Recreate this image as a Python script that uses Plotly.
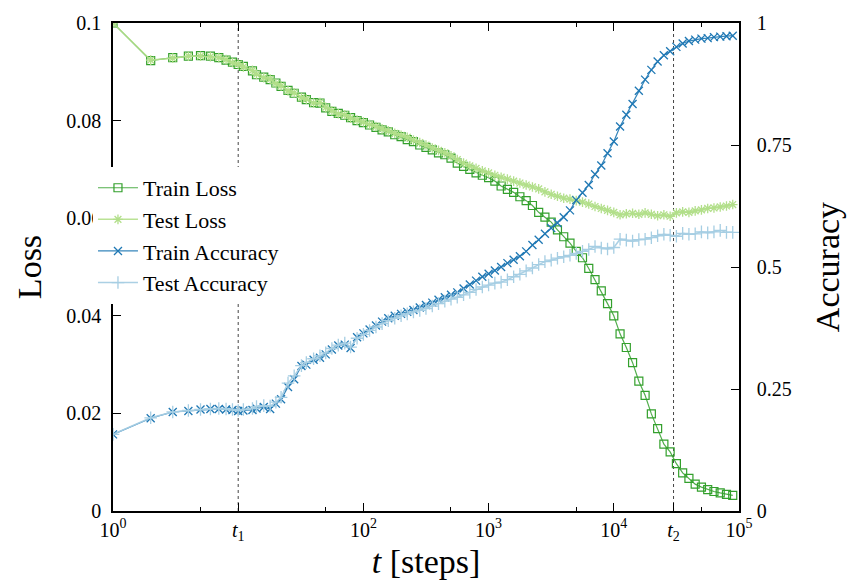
import plotly.graph_objects as go

# ---------------- data ----------------
steps = [1, 2, 3, 4, 5, 6, 7, 8, 9, 10,
         11, 13, 14, 16, 18, 20, 22, 25, 28, 32, 35, 40, 45, 50, 56, 63, 71, 79, 89, 100,
         112, 126, 141, 158, 178, 200, 224, 251, 282, 316, 355, 398, 447, 501, 562, 631, 708, 794, 891, 1000,
         1122, 1259, 1413, 1585, 1778, 1995, 2239, 2512, 2818, 3162, 3548, 3981, 4467, 5012, 5623, 6310, 7079, 7943, 8913, 10000,
         11220, 12589, 14125, 15849, 17783, 19953, 22387, 25119, 28184, 31623, 35481, 39811, 44668, 50119, 56234, 63096, 70795, 79433, 89125]

train_loss = [0.1000, 0.0923, 0.0929, 0.0932, 0.0933, 0.0932, 0.0929, 0.0924, 0.0920, 0.0915,
              0.0911, 0.0902, 0.0894, 0.0889, 0.0884, 0.0877, 0.0870, 0.0862, 0.0856, 0.0848, 0.0843, 0.0837, 0.0836, 0.0826, 0.0819, 0.0815, 0.0811, 0.0806, 0.0800, 0.0796,
              0.0791, 0.0786, 0.0781, 0.0777, 0.0771, 0.0767, 0.0761, 0.0757, 0.0750, 0.0745, 0.0740, 0.0734, 0.0730, 0.0723, 0.0713, 0.0706, 0.0700, 0.0693, 0.0688, 0.0683,
              0.0676, 0.0666, 0.0659, 0.0653, 0.0644, 0.0636, 0.0626, 0.0612, 0.0602, 0.0592, 0.0576, 0.0562, 0.0549, 0.0532, 0.0519, 0.0497, 0.0474, 0.0451, 0.0425, 0.0400,
              0.0363, 0.0335, 0.0304, 0.0266, 0.0237, 0.0199, 0.0169, 0.0137, 0.0121, 0.0097, 0.0078, 0.0067, 0.0055, 0.0049, 0.0044, 0.0040, 0.0037, 0.0034, 0.0032]

test_loss = [0.1000, 0.0924, 0.0928, 0.0932, 0.0932, 0.0931, 0.0929, 0.0925, 0.0919, 0.0916,
             0.0910, 0.0903, 0.0895, 0.0888, 0.0885, 0.0876, 0.0871, 0.0861, 0.0857, 0.0847, 0.0844, 0.0836, 0.0837, 0.0827, 0.0820, 0.0814, 0.0812, 0.0805, 0.0801, 0.0797,
             0.0792, 0.0788, 0.0783, 0.0779, 0.0774, 0.0770, 0.0766, 0.0760, 0.0755, 0.0750, 0.0744, 0.0739, 0.0734, 0.0728, 0.0720, 0.0713, 0.0707, 0.0702, 0.0697, 0.0693,
             0.0688, 0.0684, 0.0680, 0.0676, 0.0672, 0.0668, 0.0664, 0.0660, 0.0654, 0.0649, 0.0645, 0.0641, 0.0639, 0.0636, 0.0633, 0.0629, 0.0624, 0.0620, 0.0616, 0.0612,
             0.0607, 0.0609, 0.0610, 0.0608, 0.0611, 0.0608, 0.0605, 0.0607, 0.0604, 0.0611, 0.0613, 0.0612, 0.0615, 0.0617, 0.0620, 0.0621, 0.0623, 0.0625, 0.0628]

train_acc = [0.157, 0.190, 0.203, 0.205, 0.208, 0.209, 0.209, 0.208, 0.207, 0.205,
             0.206, 0.207, 0.210, 0.213, 0.209, 0.220, 0.229, 0.254, 0.270, 0.297, 0.300, 0.310, 0.314, 0.321, 0.331, 0.339, 0.341, 0.334, 0.356, 0.364,
             0.372, 0.380, 0.388, 0.395, 0.400, 0.404, 0.408, 0.412, 0.417, 0.422, 0.427, 0.433, 0.438, 0.443, 0.448, 0.456, 0.464, 0.472, 0.480, 0.486,
             0.493, 0.500, 0.508, 0.515, 0.522, 0.532, 0.545, 0.556, 0.568, 0.580, 0.590, 0.602, 0.616, 0.637, 0.652, 0.668, 0.690, 0.708, 0.733, 0.757,
             0.788, 0.812, 0.834, 0.861, 0.884, 0.904, 0.921, 0.934, 0.942, 0.951, 0.958, 0.963, 0.966, 0.968, 0.969, 0.971, 0.972, 0.973, 0.974]

test_acc = [0.157, 0.191, 0.203, 0.206, 0.208, 0.209, 0.210, 0.209, 0.208, 0.206,
            0.208, 0.210, 0.214, 0.216, 0.215, 0.223, 0.233, 0.262, 0.277, 0.298, 0.304, 0.312, 0.318, 0.324, 0.333, 0.340, 0.344, 0.336, 0.354, 0.362,
            0.370, 0.377, 0.384, 0.390, 0.395, 0.400, 0.404, 0.408, 0.411, 0.415, 0.420, 0.425, 0.430, 0.434, 0.438, 0.443, 0.448, 0.454, 0.459, 0.463,
            0.467, 0.469, 0.474, 0.480, 0.485, 0.492, 0.498, 0.505, 0.511, 0.514, 0.518, 0.521, 0.524, 0.528, 0.532, 0.536, 0.542, 0.539, 0.537, 0.540,
            0.557, 0.555, 0.553, 0.556, 0.557, 0.560, 0.564, 0.567, 0.565, 0.563, 0.569, 0.567, 0.568, 0.572, 0.570, 0.572, 0.575, 0.571, 0.571]

T1 = 10
T2 = 30000

x_tickvals = [1, T1, 100, 1000, 10000, T2, 100000]
x_ticktext = ["10<sup>0</sup>", "<i>t</i><sub>1</sub>", "10<sup>2</sup>", "10<sup>3</sup>",
              "10<sup>4</sup>", "<i>t</i><sub>2</sub>", "10<sup>5</sup>"]
x_minor = [5, 50, 500, 5000, 50000]
loss_ticks = [0, 0.02, 0.04, 0.06, 0.08, 0.1]
loss_text = ["0", "0.02", "0.04", "0.06", "0.08", "0.1"]
acc_ticks = [0, 0.25, 0.5, 0.75, 1]
acc_text = ["0", "0.25", "0.5", "0.75", "1"]

for s in (train_loss, test_loss, train_acc, test_acc):
    assert len(s) == len(steps), len(s)

FONT = "Liberation Serif, Times New Roman, serif"

fig = go.Figure()

# reference lines t1, t2
for tv in (T1, T2):
    fig.add_trace(go.Scatter(x=[tv, tv], y=[0, 0.1], mode="lines",
                             line=dict(color="#444444", width=1, dash="dot"),
                             showlegend=False, hoverinfo="skip"))

fig.add_trace(go.Scatter(x=steps, y=train_loss, name="Train Loss", mode="lines+markers",
                         line=dict(color="rgba(51,160,44,0.85)", width=1.2),
                         marker=dict(symbol="square-open", size=8, color="#33a02c",
                                     line=dict(width=1.2, color="#33a02c"))))
fig.add_trace(go.Scatter(x=steps, y=test_loss, name="Test Loss", mode="lines+markers",
                         line=dict(color="rgba(178,223,138,0.9)", width=1.5),
                         marker=dict(symbol="asterisk-open", size=8, color="#b2df8a",
                                     line=dict(width=1.3, color="#b2df8a"))))
fig.add_trace(go.Scatter(x=steps, y=train_acc, name="Train Accuracy", mode="lines+markers",
                         yaxis="y2",
                         line=dict(color="rgba(31,120,180,0.9)", width=1.2),
                         marker=dict(symbol="x-thin-open", size=8, color="#1f78b4",
                                     line=dict(width=1.3, color="#1f78b4"))))
fig.add_trace(go.Scatter(x=steps, y=test_acc, name="Test Accuracy", mode="lines+markers",
                         yaxis="y2",
                         line=dict(color="rgba(166,206,227,0.95)", width=1.5),
                         marker=dict(symbol="cross-thin-open", size=9, color="#a6cee3",
                                     line=dict(width=1.3, color="#a6cee3"))))

fig.update_layout(
    width=852, height=587,
    margin=dict(l=113, r=109, t=14, b=76),
    paper_bgcolor="white", plot_bgcolor="white",
    font=dict(family=FONT, size=20, color="black"),
    xaxis=dict(type="log", range=[0, 5], showline=True, linecolor="black", linewidth=1.5,
               mirror="ticks", ticks="inside", ticklen=8, tickwidth=1, tickcolor="black",
               tickmode="array", tickvals=x_tickvals, ticktext=x_ticktext,
               minor=dict(tickvals=x_minor, ticks="inside", ticklen=4, tickcolor="black"),
               showgrid=False, zeroline=False, tickfont=dict(size=20),
               title=dict(text="<i>t</i> [steps]", font=dict(size=34), standoff=6)),
    yaxis=dict(range=[0, 0.1], showline=True, linecolor="black", linewidth=1.5,
               ticks="inside", ticklen=8, tickcolor="black",
               tickmode="array", tickvals=loss_ticks, ticktext=loss_text,
               showgrid=False, zeroline=False, ticklabelstandoff=6,
               title=dict(text="Loss", font=dict(size=34), standoff=14)),
    yaxis2=dict(range=[0, 1], overlaying="y", side="right", showline=True,
                linecolor="black", linewidth=1.5, ticks="inside", ticklen=8, tickcolor="black",
                tickmode="array", tickvals=acc_ticks, ticktext=acc_text,
                showgrid=False, zeroline=False, ticklabelstandoff=12,
                title=dict(text="Accuracy", font=dict(size=34), standoff=24)),
    legend=dict(x=-0.032, y=0.705, xanchor="left", yanchor="top",
                bgcolor="white", borderwidth=0, itemwidth=40,
                font=dict(family=FONT, size=22), tracegroupgap=0),
)

fig.write_html("out.html")
